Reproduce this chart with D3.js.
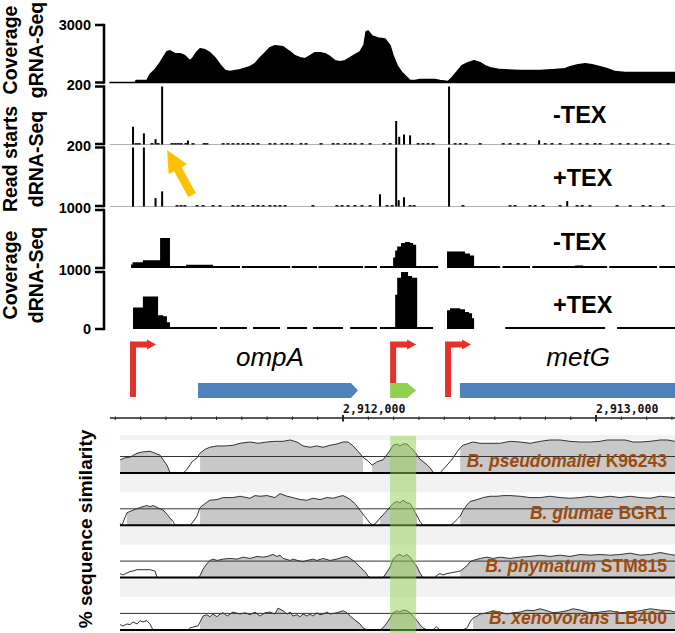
<!DOCTYPE html>
<html><head><meta charset="utf-8">
<script src="https://cdn.jsdelivr.net/npm/d3@7"></script>
<style>body{margin:0;background:#fff}svg{display:block}</style>
</head><body>
<svg id="chart" width="675" height="633"></svg>
<script>
// ---------- DATA (positions are bp offsets from regionStart) ----------
const regionStart = 2911000;
const viewRange = [79, 2312];

// gRNA-Seq coverage [pos, reads]
const gRnaCoverage = [[79,0],[178,0],[182,100],[225,100],[237,414],[257,672],[277,1034],[289,1293],[304,1603],[316,1655],[336,1500],[356,1500],[375,1397],[395,1138],[407,1293],[423,1603],[435,1759],[455,1707],[474,1552],[494,1293],[514,931],[534,621],[553,569],[593,672],[632,828],[652,983],[672,1293],[692,1552],[711,1810],[731,1914],[763,1862],[791,1603],[810,1397],[830,1293],[850,1241],[870,1397],[889,1552],[909,1552],[929,1500],[949,1345],[968,1138],[988,1086],[1008,1138],[1028,1293],[1047,1448],[1067,1603],[1083,1966],[1091,2638],[1099,2690],[1115,2431],[1138,2328],[1166,2276],[1186,1914],[1198,1397],[1214,879],[1233,517],[1253,259],[1265,103],[1285,103],[1304,155],[1364,155],[1383,103],[1415,52],[1431,259],[1451,569],[1470,879],[1494,1034],[1518,1138],[1542,1034],[1561,879],[1581,776],[1621,672],[1700,621],[1779,621],[1838,672],[1878,724],[1897,828],[1929,931],[1957,983],[1984,931],[2016,828],[2044,724],[2075,569],[2115,517],[2174,517],[2253,517],[2312,517]];

// dRNA-Seq read starts [pos, count]
const readStartsMinusTEX = [[170,60],[213,37],[259,17],[285,520],[387,12],[1210,80],[1222,25],[1241,33],[1265,30],[1419,520],[1775,13],
 [182,3],[194,3],[245,3],[269,3],[324,3],[336,3],[348,3],[360,3],[379,3],[407,3],[451,3],[462,3],[526,3],[545,3],[565,3],[585,3],[605,3],[624,3],[644,3],[664,3],[711,3],[731,3],[759,3],[779,3],[798,3],[834,3],[854,3],[913,3],[961,3],[980,3],[1008,3],[1028,3],[1047,3],[1075,3],[1107,3],[1162,3],[1186,3],[1297,3],[1316,3],[1336,3],[1356,3],[1443,3],[1463,3],[1486,3],[1542,3],[1633,3],[1660,3],[1692,3],[1719,3],[1799,3],[1826,3],[1858,3],[1905,3],[1937,3],[1965,3],[1996,3],[2016,3],[2063,3],[2095,3],[2127,3],[2158,3],[2190,3],[2221,3],[2253,3],[2285,3]];
const readStartsPlusTEX = [[170,520],[213,520],[259,27],[285,50],[1146,40],[1210,520],[1220,20],[1241,30],[1419,520],[1886,17],
 [344,3],[360,3],[375,3],[423,3],[447,3],[486,3],[514,3],[565,3],[585,3],[605,3],[644,3],[664,3],[684,3],[711,3],[731,3],[751,3],[771,3],[881,3],[976,3],[996,3],[1020,3],[1047,3],[1075,3],[1107,3],[1174,3],[1194,3],[1265,3],[1281,3],[1474,3],[1660,3],[1680,3],[1739,3],[1759,3],[1791,3],[1858,3],[1925,3],[1945,3],[1976,3],[2083,3],[2135,3],[2186,3],[2214,3],[2265,3]];

// dRNA-Seq coverage runs [start, end, reads]
const coverageMinusTEX = [[162,168,60],[168,209,100],[209,277,133],[277,316,517],[316,380,30],[380,486,55],[486,593,25],[600,791,25],[797,897,25],[903,1079,25],[1085,1134,20],[1146,1198,20],[1198,1206,183],[1206,1214,300],[1214,1229,370],[1229,1245,430],[1245,1265,450],[1265,1277,430],[1277,1289,400],[1289,1376,20],[1411,1482,283],[1482,1502,250],[1502,1518,217],[1518,1621,15],[1630,1739,15],[1748,1917,15],[1917,1949,45],[1949,2044,15],[2052,2241,15],[2250,2312,15]];
const coveragePlusTEX = [[170,209,379],[209,269,569],[269,289,241],[289,304,224],[304,316,120],[316,502,20],[514,620,20],[644,751,20],[779,858,20],[881,1000,20],[1028,1134,20],[1146,1206,34],[1206,1214,600],[1214,1229,897],[1229,1257,1050],[1257,1273,931],[1273,1293,897],[1293,1356,20],[1411,1423,328],[1423,1463,362],[1463,1482,345],[1482,1498,300],[1498,1510,276],[1510,1518,190],[1641,2036,20],[2083,2312,20]];

// Panel tick labels (max of each panel) and names
const panelMax = [3000, 200, 200, 1000, 1000];
const panelTickLabels = ["3000", "200", "200", "1000", "1000", "0"];
const trackTitles = [["Coverage","gRNA-Seq"],["Read starts","dRNA-Seq"],["Coverage","dRNA-Seq"]];
const texLabels = ["-TEX", "+TEX", "-TEX", "+TEX"];

// annotation
const tssPositions = [170, 1198, 1415];
const genes = [
  {name:"ompA", start:427, end:1059, type:"cds"},
  {name:"sRNA", start:1186, end:1289, type:"srna"},
  {name:"metG", start:1462, end:2450, type:"cds"}];
const geneLabels = [{text:"ompA", pos:711}, {text:"metG", pos:1929}];
const rulerLabels = [2912000, 2913000];

// VISTA % similarity [pos, %]
const simPseudomallei = [[119,70],[138,73],[158,74],[186,80],[209,82],[237,83],[257,80],[277,77],[289,70],[304,62],[316,51],[330,50],[368,50],[383,55],[403,67],[423,73],[435,80],[455,86],[474,89],[502,91],[534,91],[565,92],[593,95],[632,97],[664,95],[700,97],[731,98],[763,98],[791,100],[818,97],[842,91],[870,89],[897,91],[921,89],[949,92],[976,94],[1000,97],[1020,97],[1040,91],[1059,83],[1079,74],[1099,68],[1115,62],[1134,67],[1158,70],[1182,82],[1198,92],[1214,94],[1225,91],[1237,94],[1253,94],[1265,89],[1277,85],[1293,77],[1304,71],[1324,65],[1344,58],[1356,51],[1372,50],[1383,50],[1395,55],[1411,62],[1423,67],[1435,73],[1451,82],[1463,88],[1474,92],[1490,94],[1514,97],[1542,95],[1581,95],[1621,95],[1660,98],[1700,97],[1739,95],[1779,98],[1818,100],[1858,100],[1897,98],[1937,97],[1976,97],[2016,98],[2044,100],[2075,100],[2115,100],[2146,97],[2174,97],[2214,98],[2253,100],[2281,100],[2312,98]];
const simGlumae = [[119,53],[126,50],[146,69],[170,73],[198,77],[225,80],[237,78],[249,80],[265,77],[277,75],[289,73],[304,67],[316,61],[328,56],[336,50],[395,50],[407,55],[423,64],[435,77],[455,83],[474,88],[502,89],[526,92],[565,92],[593,94],[632,91],[652,95],[672,94],[700,95],[731,92],[751,98],[779,94],[802,92],[830,89],[858,88],[881,91],[909,89],[937,92],[961,91],[988,94],[1000,95],[1016,92],[1028,89],[1047,83],[1067,73],[1079,67],[1095,59],[1107,53],[1119,50],[1134,55],[1146,61],[1166,69],[1186,78],[1198,83],[1214,86],[1225,84],[1237,88],[1253,84],[1265,83],[1277,75],[1293,64],[1304,56],[1316,50],[1423,50],[1435,53],[1451,59],[1463,64],[1474,72],[1490,81],[1502,86],[1530,89],[1554,92],[1581,94],[1609,94],[1633,95],[1660,95],[1700,94],[1739,92],[1779,92],[1818,94],[1858,92],[1897,91],[1937,92],[1976,94],[2016,92],[2055,94],[2095,92],[2135,94],[2174,92],[2214,91],[2253,94],[2312,92]];
const simPhymatum = [[119,56],[130,54],[146,57],[158,59],[170,60],[186,62],[237,62],[257,60],[265,50],[427,50],[435,53],[447,63],[462,71],[474,76],[486,78],[502,76],[526,78],[553,79],[581,78],[605,81],[632,79],[660,82],[684,81],[700,82],[723,85],[739,82],[751,84],[763,79],[791,76],[802,78],[830,75],[842,74],[858,76],[881,78],[897,76],[921,79],[949,76],[976,78],[1000,81],[1016,82],[1028,79],[1047,74],[1067,66],[1087,59],[1099,52],[1107,50],[1158,50],[1166,54],[1186,66],[1198,78],[1214,84],[1225,85],[1237,82],[1253,85],[1265,81],[1277,74],[1293,66],[1304,57],[1316,50],[1364,50],[1372,54],[1383,56],[1395,54],[1411,56],[1423,57],[1451,59],[1463,60],[1474,63],[1490,68],[1502,74],[1514,76],[1542,79],[1569,81],[1593,79],[1621,81],[1660,79],[1700,81],[1739,82],[1779,84],[1818,82],[1858,84],[1897,82],[1937,85],[1976,84],[2016,85],[2055,84],[2095,85],[2135,87],[2174,84],[2214,85],[2253,88],[2293,85],[2312,84]];
const simXenovorans = [[119,58],[130,56],[146,59],[158,58],[170,62],[186,59],[198,64],[209,62],[225,64],[237,59],[249,50],[387,50],[395,53],[415,55],[427,56],[435,62],[447,71],[462,73],[474,70],[486,74],[502,70],[514,74],[526,76],[542,71],[553,74],[565,77],[593,74],[613,76],[632,73],[652,77],[672,71],[692,76],[711,77],[731,74],[743,83],[763,79],[779,74],[791,77],[802,71],[818,73],[830,70],[842,74],[858,71],[870,74],[881,71],[897,76],[909,73],[921,74],[937,77],[949,74],[976,76],[1000,79],[1016,76],[1028,71],[1047,65],[1067,59],[1079,53],[1095,50],[1146,50],[1158,53],[1174,61],[1186,68],[1198,76],[1214,79],[1225,77],[1237,80],[1253,79],[1265,76],[1277,70],[1293,64],[1304,58],[1316,53],[1332,50],[1356,50],[1368,55],[1383,50],[1474,50],[1490,53],[1502,62],[1514,68],[1530,71],[1542,74],[1569,76],[1593,79],[1621,77],[1648,74],[1672,76],[1700,77],[1727,80],[1751,79],[1779,82],[1806,79],[1830,76],[1858,77],[1885,79],[1909,82],[1937,80],[1965,77],[1988,76],[2016,77],[2055,79],[2095,76],[2135,77],[2174,79],[2214,82],[2253,80],[2293,79],[2312,77]];
// conserved (shaded) regions [start, end]
const cnsPseudomallei = [[119,316],[435,1079],[1115,1352],[1463,2312]];
const cnsGlumae = [[146,324],[435,1079],[1146,1293],[1463,2312]];
const cnsPhymatum = [[427,1095],[1158,1316],[1463,2312]];
const cnsXenovorans = [[435,1079],[1158,1332],[1514,2312]];
const speciesGenus = ["B. pseudomallei", "B. glumae", "B. phymatum", "B. xenovorans"];
const speciesStrain = ["K96243", "BGR1", "STM815", "LB400"];

// ---------- DRAWING ----------
const svg = d3.select("#chart");
const FONT = "'Liberation Sans', Arial, Helvetica, sans-serif";
svg.append("rect").attr("width",675).attr("height",633).attr("fill","#fff");

const x = d3.scaleLinear().domain([regionStart+viewRange[0], regionStart+viewRange[1]]).range([110, 675]);
const X = p => x(regionStart + p);

const panels = [
  {top:25, bottom:82.5}, {top:86.5, bottom:144}, {top:147.5, bottom:206},
  {top:210, bottom:268}, {top:272, bottom:329}];
panels.forEach((p,i) => { p.y = d3.scaleLinear().domain([0, panelMax[i]]).range([p.bottom, p.top]).clamp(true); });

// gRNA coverage
const P0 = panels[0];
svg.append("path").datum(gRnaCoverage)
  .attr("d", d3.area().x(d=>X(d[0])).y0(P0.bottom).y1(d=>P0.y(d[1])))
  .attr("fill","#000").attr("stroke","#000").attr("stroke-width",1.5).attr("stroke-linejoin","round");

// read starts
[[readStartsMinusTEX, panels[1]], [readStartsPlusTEX, panels[2]]].forEach(([data, p]) => {
  svg.append("line").attr("x1",110).attr("x2",675).attr("y1",p.bottom+0.5).attr("y2",p.bottom+0.5)
    .attr("stroke","#b0b0b0").attr("stroke-width",1);
  svg.append("g").selectAll("rect").data(data).join("rect")
    .attr("x", d => X(d[0]) - (d[1] < 10 ? 1.5 : 1)).attr("width", d => d[1] < 10 ? 3 : 2)
    .attr("y", d => p.y(d[1])).attr("height", d => p.bottom + 0.5 - p.y(d[1]))
    .attr("fill","#000");
});

// dRNA coverage as step outlines built from contiguous runs
function runsPath(runs, p) {
  let d = "", prevEnd = null;
  runs.forEach(r => {
    const x0 = X(r[0]), x1 = X(r[1]), yv = Math.min(p.y(r[2]), p.bottom - 2);
    if (prevEnd === null || r[0] !== prevEnd) {
      if (d) d += `V${p.bottom}Z`;
      d += `M${x0},${p.bottom}V${yv}H${x1}`;
    } else {
      d += `V${yv}H${x1}`;
    }
    prevEnd = r[1];
  });
  return d + `V${p.bottom}Z`;
}
[[coverageMinusTEX, panels[3]], [coveragePlusTEX, panels[4]]].forEach(([data, p]) => {
  svg.append("path").attr("d", runsPath(data, p)).attr("fill","#000");
});

// Y axis with breaks
const axX = 104;
const axG = svg.append("g").attr("stroke","#000").attr("stroke-width",2.5);
panels.forEach(p => {
  axG.append("line").attr("x1",axX).attr("x2",axX).attr("y1",p.top-1.2).attr("y2",p.bottom+1.2);
  axG.append("line").attr("x1",95).attr("x2",axX).attr("y1",p.top).attr("y2",p.top);
  axG.append("line").attr("x1",95).attr("x2",axX).attr("y1",p.bottom).attr("y2",p.bottom);
});
const tickYs = [panels[0].top];
for (let i=1;i<panels.length;i++) tickYs.push((panels[i-1].bottom + panels[i].top)/2);
tickYs.push(panels[4].bottom);
svg.append("g").selectAll("text").data(panelTickLabels).join("text")
  .attr("x", 91).attr("y", (d,i) => tickYs[i]).attr("dy","0.36em")
  .attr("text-anchor","end").attr("font-family",FONT).attr("font-weight","bold").attr("font-size",14.5)
  .text(d => d);

// track titles (rotated)
const titleCenters = [50, 159, 275];
trackTitles.forEach((lines, i) => {
  lines.forEach((t, j) => {
    svg.append("text").attr("transform", `translate(${j===0?17:43},${titleCenters[i]}) rotate(-90)`)
      .attr("text-anchor","middle").attr("font-family",FONT).attr("font-weight","bold").attr("font-size",19.5)
      .text(t);
  });
});

// -TEX / +TEX labels
const texBaselines = [123, 186, 250, 313];
svg.append("g").selectAll("text").data(texLabels).join("text")
  .attr("x",553).attr("y",(d,i)=>texBaselines[i])
  .attr("font-family",FONT).attr("font-weight","bold").attr("font-size",23.5).text(d=>d);

// yellow arrow pointing at the -TEX spike
(function(){
  const tip = [X(285) + 5, panels[2].top + 2.5];
  const tail = [tip[0] + 25, tip[1] + 45];
  const L = Math.hypot(tail[0]-tip[0], tail[1]-tip[1]);
  const u = [(tip[0]-tail[0])/L, (tip[1]-tail[1])/L];
  const n = [-u[1], u[0]];
  const hl = 22, hw = 10.5, sw = 4.3;
  const b = [tip[0]-u[0]*hl, tip[1]-u[1]*hl];
  const pts = [tip, [b[0]+n[0]*hw,b[1]+n[1]*hw], [b[0]+n[0]*sw,b[1]+n[1]*sw], [tail[0]+n[0]*sw,tail[1]+n[1]*sw],
    [tail[0]-n[0]*sw,tail[1]-n[1]*sw], [b[0]-n[0]*sw,b[1]-n[1]*sw], [b[0]-n[0]*hw,b[1]-n[1]*hw]];
  svg.append("path").attr("d","M"+pts.map(p=>p.join(",")).join("L")+"Z").attr("fill","#ffc000");
})();

// genes
const geneTop = 383, geneBot = 398, geneMid = (geneTop+geneBot)/2;
svg.append("clipPath").attr("id","viewClip").append("rect").attr("x",110).attr("y",0).attr("width",565).attr("height",633);
const geneG = svg.append("g").attr("clip-path","url(#viewClip)");
geneG.selectAll("path").data(genes).join("path")
  .attr("d", g => {
    const x0 = X(g.start), x1 = X(g.end), h = g.type==="srna" ? 9 : 7;
    return `M${x0},${geneTop}H${x1-h}L${x1},${geneMid}L${x1-h},${geneBot}H${x0}Z`;
  })
  .attr("fill", g => g.type==="srna" ? "#92d050" : "#4f81bd");

// TSS arrows
tssPositions.forEach(t => {
  const tx = X(t);
  const onGene = genes.some(g => g.start <= t && t <= g.end);
  const bottom = onGene ? geneTop : geneBot - 1;
  svg.append("path").attr("d", `M${tx},${bottom}V344.5H${tx+15}`)
    .attr("fill","none").attr("stroke","#e4322b").attr("stroke-width",6).attr("stroke-linejoin","miter");
  svg.append("path").attr("d", `M${tx+14},339.5L${tx+23},344.5L${tx+14},349.5Z`).attr("fill","#e4322b");
});

// gene labels
svg.append("g").selectAll("text").data(geneLabels).join("text")
  .attr("x", d => X(d.pos)).attr("y", 366).attr("text-anchor","middle")
  .attr("font-family",FONT).attr("font-style","italic").attr("font-size",26).text(d=>d.text);

// ruler
const rulerY = 418;
svg.append("line").attr("x1",110).attr("x2",675).attr("y1",rulerY).attr("y2",rulerY).attr("stroke","#222").attr("stroke-width",1.5);
const minorTicks = d3.range(Math.ceil((regionStart+viewRange[0])/100)*100, regionStart+viewRange[1], 100);
svg.append("g").selectAll("line").data(minorTicks).join("line")
  .attr("x1", d => x(d)).attr("x2", d => x(d))
  .attr("y1", d => d % 1000 === 0 ? 415 : 416.5).attr("y2", d => d % 1000 === 0 ? 421.5 : 420)
  .attr("stroke","#222").attr("stroke-width", d => d % 1000 === 0 ? 2 : 1);
svg.append("g").selectAll("text").data(rulerLabels).join("text")
  .attr("x", d => x(d)).attr("y", 413)
  .attr("font-family","'DejaVu Sans Mono', 'Liberation Mono', monospace").attr("font-weight","bold").attr("font-size",11.5)
  .attr("fill","#111").text(d => d3.format(",")(d));

// VISTA tracks
const tracks = [
  {sim: simPseudomallei, cns: cnsPseudomallei},
  {sim: simGlumae, cns: cnsGlumae},
  {sim: simPhymatum, cns: cnsPhymatum},
  {sim: simXenovorans, cns: cnsXenovorans}];
const vLeft = X(viewRange[0]) + 10, vRight = 675;
svg.append("rect").attr("x", vLeft).attr("y", 435).attr("width", vRight - vLeft).attr("height", 633-435).attr("fill","#f2f2f2");
tracks.forEach((t, i) => {
  const top = 440 + i*52.3, bottom = top + 33;
  const y = d3.scaleLinear().domain([50,100]).range([bottom, top]).clamp(true);
  svg.append("rect").attr("x", vLeft).attr("y", top).attr("width", vRight - vLeft).attr("height", bottom - top).attr("fill","#fff");
  const cid = "cns" + i;
  svg.append("clipPath").attr("id", cid).selectAll("rect").data(t.cns).join("rect")
    .attr("x", d => X(d[0])).attr("width", d => X(d[1]) - X(d[0])).attr("y", top - 5).attr("height", bottom - top + 10);
  svg.append("path").datum(t.sim).attr("clip-path", `url(#${cid})`)
    .attr("d", d3.area().x(d => X(d[0])).y0(bottom).y1(d => y(d[1])))
    .attr("fill","#c8c8c8");
  svg.append("line").attr("x1", vLeft).attr("x2", vRight).attr("y1", y(75)).attr("y2", y(75)).attr("stroke","#333").attr("stroke-width",1);
  svg.append("path").datum(t.sim)
    .attr("d", d3.line().x(d => X(d[0])).y(d => y(d[1])))
    .attr("fill","none").attr("stroke","#333").attr("stroke-width",1);
  svg.append("line").attr("x1", vLeft).attr("x2", vRight).attr("y1", bottom).attr("y2", bottom).attr("stroke","#000").attr("stroke-width",2);
  const lab = svg.append("text").attr("x", 667).attr("y", bottom - 6).attr("text-anchor","end")
    .attr("font-family",FONT).attr("font-weight","bold").attr("font-size",17.5).attr("fill","#9c4a0c");
  lab.append("tspan").attr("font-style","italic").text(speciesGenus[i]);
  lab.append("tspan").text(" " + speciesStrain[i]);
});
// highlight of the sRNA region
const srna = genes.find(g => g.type === "srna");
svg.append("rect").attr("x", X(srna.start)).attr("width", X(srna.end) - X(srna.start))
  .attr("y", 436).attr("height", 633 - 436).attr("fill","#92d050").attr("opacity",0.5);

svg.append("text").attr("transform","translate(92,529) rotate(-90)").attr("text-anchor","middle")
  .attr("font-family",FONT).attr("font-weight","bold").attr("font-size",19).text("% sequence similarity");
</script>
</body></html>
